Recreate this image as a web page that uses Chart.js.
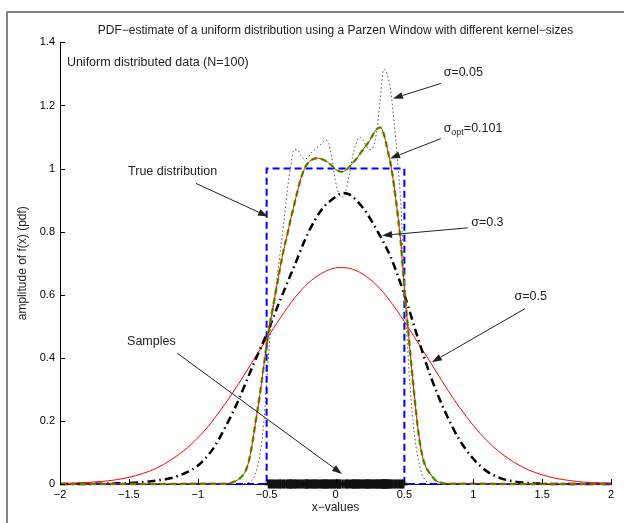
<!DOCTYPE html>
<html>
<head>
<meta charset="utf-8">
<title>Parzen window PDF estimate</title>
<script src="https://cdn.jsdelivr.net/npm/chart.js"></script>
<style>
  html, body { margin: 0; padding: 0; background: #fff; }
  canvas { display: block; }
</style>
</head>
<body>
<canvas id="chart" width="624" height="523"></canvas>
<script>
// axis ticks
const xTickValues = [-2, -1.5, -1, -0.5, 0, 0.5, 1, 1.5, 2];
const xTickLabels = ['\u22122', '\u22121.5', '\u22121', '\u22120.5', '0', '0.5', '1', '1.5', '2'];
const yTickValues = [0, 0.2, 0.4, 0.6, 0.8, 1, 1.2, 1.4];
const yTickLabels = ['0', '0.2', '0.4', '0.6', '0.8', '1', '1.2', '1.4'];

// true (uniform) distribution
const xTrue = [-2, -0.5, -0.5, 0.5, 0.5, 2];
const yTrue = [0, 0, 1, 1, 0, 0];

// fine grid used by the two narrow kernels
const xFine = [-2,
  -0.8, -0.775, -0.75, -0.725, -0.7, -0.675, -0.65, -0.625, -0.6, -0.575, -0.55,
  -0.525, -0.5, -0.475, -0.45, -0.425, -0.4, -0.375, -0.35, -0.325, -0.3,
  -0.275, -0.25, -0.225, -0.2, -0.175, -0.15, -0.125, -0.1, -0.075, -0.05, -0.025,
  0,
  0.025, 0.05, 0.075, 0.1, 0.125, 0.15, 0.175, 0.2, 0.225, 0.25, 0.275,
  0.3, 0.325, 0.35, 0.375, 0.4, 0.425, 0.45, 0.475, 0.5, 0.525, 0.55,
  0.575, 0.6, 0.625, 0.65, 0.675, 0.7, 0.725, 0.75, 0.775, 0.8,
  2];

// sigma = 0.05
const ySigma005 = [0,
  0, 0, 0, 0, 0, 0.001, 0.002, 0.006, 0.015, 0.04, 0.09,
  0.17, 0.32, 0.47, 0.57, 0.65, 0.74, 0.83, 0.93, 1.01, 1.06,
  1.06, 1.04, 1.03, 1.035, 1.05, 1.06, 1.07, 1.08, 1.09, 1.08, 1.03,
  0.96,
  0.92, 0.91, 0.93, 0.98, 1.04, 1.08, 1.10, 1.09, 1.07, 1.06, 1.07,
  1.12, 1.22, 1.315, 1.30, 1.25, 1.15, 1.03, 0.88, 0.62, 0.42, 0.26,
  0.15, 0.08, 0.035, 0.013, 0.004, 0.001, 0, 0, 0, 0,
  0];

// sigma_opt = 0.101
const ySigmaOpt = [0,
  0.001, 0.002, 0.005, 0.009, 0.016, 0.027, 0.044, 0.08, 0.14, 0.21, 0.28,
  0.36, 0.44, 0.51, 0.57, 0.63, 0.69, 0.745, 0.79, 0.84, 0.885,
  0.93, 0.97, 1.0, 1.018, 1.027, 1.032, 1.033, 1.03, 1.025, 1.018, 1.008,
  0.998,
  0.992, 0.99, 0.995, 1.005, 1.018, 1.03, 1.045, 1.06, 1.075, 1.09, 1.11,
  1.125, 1.13, 1.11, 1.065, 1.015, 0.945, 0.86, 0.76, 0.62, 0.5, 0.38,
  0.27, 0.17, 0.1, 0.06, 0.04, 0.025, 0.012, 0.006, 0.003, 0.001,
  0];

// wide grid used by the two broad kernels
const xWide = [-2, -1.9, -1.8, -1.7, -1.6, -1.5, -1.4, -1.3, -1.2, -1.1,
  -1, -0.9, -0.8, -0.7, -0.6, -0.5, -0.4, -0.3, -0.2, -0.1,
  0, 0.05, 0.1, 0.2, 0.3, 0.4, 0.5, 0.6, 0.7, 0.8, 0.9,
  1, 1.1, 1.2, 1.3, 1.4, 1.5, 1.6, 1.7, 1.8, 1.9, 2];

// sigma = 0.3
const ySigma03 = [0, 0, 0, 0.001, 0.002, 0.003, 0.006, 0.011, 0.018, 0.033,
  0.058, 0.105, 0.18, 0.27, 0.375, 0.475, 0.585, 0.69, 0.795, 0.87,
  0.91, 0.923, 0.918, 0.875, 0.805, 0.72, 0.6, 0.46, 0.33, 0.225, 0.14,
  0.08, 0.04, 0.018, 0.008, 0.003, 0.001, 0, 0, 0, 0, 0];

// sigma = 0.5
const ySigma05 = [0.002, 0.003, 0.005, 0.008, 0.013, 0.021, 0.033, 0.05, 0.075, 0.106,
  0.146, 0.196, 0.255, 0.32, 0.39, 0.46, 0.527, 0.588, 0.636, 0.668,
  0.685, 0.686, 0.684, 0.665, 0.63, 0.578, 0.515, 0.447, 0.378, 0.308, 0.243,
  0.186, 0.137, 0.098, 0.068, 0.045, 0.029, 0.018, 0.011, 0.006, 0.004, 0.002];

// the N=100 samples, drawn on the x-axis
const sampleX = [
  -0.483, -0.471, -0.458, -0.447, -0.431, -0.417, -0.405, -0.398, -0.382, -0.369,
  -0.352, -0.341, -0.333, -0.325, -0.318, -0.309, -0.296, -0.288, -0.274, -0.261,
  -0.247, -0.233, -0.219, -0.212, -0.205, -0.198, -0.186, -0.172, -0.165, -0.151,
  -0.145, -0.139, -0.126, -0.114, -0.102, -0.093, -0.084, -0.078, -0.071, -0.062,
  -0.055, -0.043, -0.031, -0.022, -0.013, -0.004, 0.008, 0.019, 0.027, 0.034,
  0.052, 0.071, 0.083, 0.091, 0.104, 0.116, 0.127, 0.131, 0.138, 0.146,
  0.155, 0.163, 0.172, 0.181, 0.192, 0.205, 0.214, 0.223, 0.231, 0.236,
  0.242, 0.251, 0.262, 0.271, 0.283, 0.292, 0.301, 0.309, 0.318, 0.326,
  0.333, 0.339, 0.345, 0.348, 0.351, 0.356, 0.362, 0.368, 0.373, 0.379,
  0.386, 0.393, 0.402, 0.414, 0.428, 0.441, 0.456, 0.468, 0.481, 0.492];

// text labels and arrows, in data units
const notes = [
  { text: 'Uniform distributed data (N=100)', at: [-1.95, 1.335] },
  { text: '\u03c3=0.05', at: [0.785, 1.304], from: [0.765, 1.27], to: [0.417, 1.222] },
  { text: '\u03c3', sub: 'opt', rest: '=0.101', at: [0.785, 1.127], from: [0.765, 1.095], to: [0.396, 1.032] },
  { text: 'True distribution', at: [-1.506, 0.99], from: [-1.013, 0.953], to: [-0.49, 0.848] },
  { text: '\u03c3=0.3', at: [0.985, 0.829], from: [0.96, 0.812], to: [0.338, 0.788] },
  { text: '\u03c3=0.5', at: [1.3, 0.595], from: [1.376, 0.556], to: [0.70, 0.386] },
  { text: 'Samples', at: [-1.513, 0.453], from: [-1.15, 0.415], to: [0.047, 0.032] }
];

const FONT = "'Liberation Sans', Arial, Helvetica, sans-serif";
Chart.defaults.font.family = FONT;
Chart.defaults.color = '#222';

const toPoints = (xs, ys) => xs.map((x, i) => ({ x: x, y: ys[i] }));

function drawArrow(ctx, x1, y1, x2, y2) {
    const a = Math.atan2(y2 - y1, x2 - x1);
    const len = 10, half = 3.5;
    const c = Math.cos(a), s = Math.sin(a);
    ctx.beginPath();
    ctx.moveTo(x1, y1);
    ctx.lineTo(x2 - len * c, y2 - len * s);
    ctx.stroke();
    ctx.beginPath();
    ctx.moveTo(x2, y2);
    ctx.lineTo(x2 - len * c + half * s, y2 - len * s - half * c);
    ctx.lineTo(x2 - len * c - half * s, y2 - len * s + half * c);
    ctx.closePath();
    ctx.fill();
}

// figure frame, inward ticks, annotations
const matlabLook = {
    id: 'matlabLook',
    beforeDraw(chart) {
        const ctx = chart.ctx;
        ctx.save();
        ctx.strokeStyle = '#858585';
        ctx.lineWidth = 2;
        ctx.beginPath();
        ctx.moveTo(7, chart.height);
        ctx.lineTo(7, 12);
        ctx.lineTo(chart.width, 12);
        ctx.stroke();
        ctx.restore();
    },
    afterDatasetsDraw(chart) {
        const ctx = chart.ctx;
        const xs = chart.scales.x, ys = chart.scales.y;
        const area = chart.chartArea;
        ctx.save();
        ctx.strokeStyle = '#000';
        ctx.lineWidth = 1;
        ctx.beginPath();
        xs.ticks.forEach(t => {
            const px = Math.round(xs.getPixelForValue(t.value)) + 0.5;
            ctx.moveTo(px, area.bottom);
            ctx.lineTo(px, area.bottom - 5);
        });
        ys.ticks.forEach(t => {
            const py = Math.round(ys.getPixelForValue(t.value)) + 0.5;
            ctx.moveTo(area.left, py);
            ctx.lineTo(area.left + 5, py);
        });
        ctx.stroke();

        ctx.fillStyle = '#222';
        ctx.strokeStyle = '#222';
        ctx.lineWidth = 1;
        ctx.textBaseline = 'middle';
        ctx.textAlign = 'left';
        notes.forEach(n => {
            const tx = xs.getPixelForValue(n.at[0]);
            const ty = ys.getPixelForValue(n.at[1]);
            ctx.font = '12.5px ' + FONT;
            ctx.fillText(n.text, tx, ty);
            if (n.sub) {
                let w = ctx.measureText(n.text).width;
                ctx.font = '9px ' + FONT;
                ctx.fillText(n.sub, tx + w, ty + 4);
                w += ctx.measureText(n.sub).width;
                ctx.font = '12.5px ' + FONT;
                ctx.fillText(n.rest, tx + w, ty);
            }
            if (n.from) {
                drawArrow(ctx,
                    xs.getPixelForValue(n.from[0]), ys.getPixelForValue(n.from[1]),
                    xs.getPixelForValue(n.to[0]), ys.getPixelForValue(n.to[1]));
            }
        });
        ctx.restore();
    }
};

const lineSet = (label, xs, ys, color, width, dash) => ({
    label: label,
    data: toPoints(xs, ys),
    showLine: true,
    borderColor: color,
    borderWidth: width,
    borderDash: dash,
    pointRadius: 0,
    cubicInterpolationMode: 'monotone',
    fill: false,
    clip: false
});

const trueSet = lineSet('True distribution', xTrue, yTrue, '#0000ff', 2, [7, 4]);
trueSet.cubicInterpolationMode = 'default';
trueSet.tension = 0;

new Chart(document.getElementById('chart'), {
    type: 'scatter',
    data: {
        datasets: [
            {
                label: 'Samples',
                data: toPoints(sampleX, sampleX.map(() => 0)),
                pointStyle: 'cross',
                pointRadius: 4.5,
                pointBorderWidth: 2.4,
                borderColor: '#111',
                pointBorderColor: '#111',
                clip: false
            },
            lineSet('\u03c3opt=0.101', xFine, ySigmaOpt, '#ff0000', 1, []),
            lineSet('\u03c3opt=0.101 (dashed)', xFine, ySigmaOpt, '#00e000', 2.5, [6, 4]),
            trueSet,
            lineSet('\u03c3=0.3', xWide, ySigma03, '#000', 2.5, [8, 4, 1.5, 4]),
            lineSet('\u03c3=0.05', xFine, ySigma005, '#555', 1, [1.5, 2.5]),
            lineSet('\u03c3=0.5', xWide, ySigma05, '#ff0000', 1, [])
        ]
    },
    options: {
        responsive: false,
        animation: false,
        events: [],
        devicePixelRatio: 1,
        layout: { padding: { left: 0, right: 13, top: 0, bottom: 0 } },
        plugins: {
            legend: { display: false },
            tooltip: { enabled: false },
            title: {
                display: true,
                fullSize: false,
                text: 'PDF\u2212estimate of a uniform distribution using a Parzen Window with different kernel\u2212sizes',
                font: { size: 12, weight: 'normal' },
                color: '#222',
                padding: { top: 23, bottom: 5 }
            }
        },
        scales: {
            x: {
                type: 'linear',
                min: -2,
                max: 2,
                afterBuildTicks: s => { s.ticks = xTickValues.map(v => ({ value: v })); },
                afterFit: s => { s.height = 39; },
                ticks: {
                    callback: (v, i) => xTickLabels[i],
                    font: { size: 11 },
                    color: '#000',
                    padding: 4,
                    maxRotation: 0
                },
                grid: { display: false, drawTicks: false },
                border: { display: true, color: '#000', width: 1 },
                title: {
                    display: true,
                    text: 'x\u2212values',
                    font: { size: 12 },
                    color: '#222',
                    padding: { top: 0, bottom: 8 }
                }
            },
            y: {
                type: 'linear',
                min: 0,
                max: 1.4,
                afterBuildTicks: s => { s.ticks = yTickValues.map(v => ({ value: v })); },
                afterFit: s => { s.width = 60; },
                ticks: {
                    callback: (v, i) => yTickLabels[i],
                    font: { size: 11 },
                    color: '#000',
                    padding: 5
                },
                grid: { display: false, drawTicks: false },
                border: { display: true, color: '#000', width: 1 },
                title: {
                    display: true,
                    text: 'amplitude of f(x) (pdf)',
                    font: { size: 12 },
                    color: '#222',
                    padding: { top: 15, bottom: 0 }
                }
            }
        }
    },
    plugins: [matlabLook]
});
</script>
</body>
</html>
